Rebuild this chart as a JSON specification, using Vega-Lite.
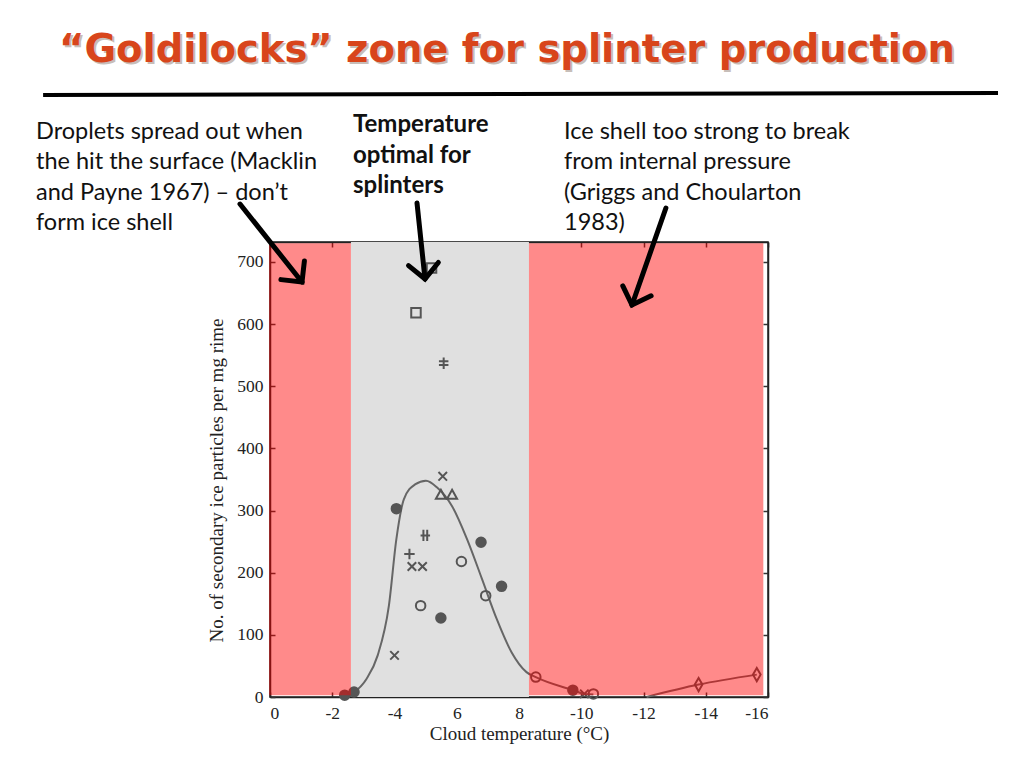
{
  "$schema": "https://vega.github.io/schema/vega-lite/v6.json",
  "width": 498,
  "height": 455,
  "autosize": {"type": "none"},
  "padding": {"left": 270, "top": 242, "right": 256, "bottom": 71},
  "background": "white",
  "config": {"view": {"stroke": "#222", "strokeWidth": 1.5}},
  "datasets": {
    "gray": [{"x": -2.6, "x2": -8.32, "y": 0, "y2": 732}],
    "red": [
      {"x": 0.03, "x2": -2.6, "y": 3, "y2": 730},
      {"x": -8.32, "x2": -15.85, "y": 3, "y2": 730}
    ],
    "curve": [
      {"seg": "a", "x": -2.4, "y": 2},
      {"seg": "a", "x": -2.7, "y": 8},
      {"seg": "a", "x": -3.1, "y": 29},
      {"seg": "a", "x": -3.46, "y": 67},
      {"seg": "a", "x": -3.82, "y": 147},
      {"seg": "a", "x": -4.06, "y": 254},
      {"seg": "a", "x": -4.3, "y": 318},
      {"seg": "a", "x": -4.66, "y": 342},
      {"seg": "a", "x": -5.01, "y": 348},
      {"seg": "a", "x": -5.37, "y": 337},
      {"seg": "a", "x": -5.85, "y": 307},
      {"seg": "a", "x": -6.33, "y": 254},
      {"seg": "a", "x": -6.81, "y": 190},
      {"seg": "a", "x": -7.28, "y": 126},
      {"seg": "a", "x": -7.76, "y": 72},
      {"seg": "a", "x": -8.24, "y": 40},
      {"seg": "a", "x": -8.54, "y": 32},
      {"seg": "a", "x": -9.73, "y": 11},
      {"seg": "a", "x": -10.1, "y": 5},
      {"seg": "a", "x": -10.39, "y": 4},
      {"seg": "b", "x": -12.1, "y": 0},
      {"seg": "b", "x": -13.77, "y": 20},
      {"seg": "b", "x": -15.64, "y": 36}
    ],
    "obs": [
      {"kind": "dot", "x": -2.4, "y": 3},
      {"kind": "dot", "x": -2.7, "y": 8},
      {"kind": "dot", "x": -4.06, "y": 303},
      {"kind": "dot", "x": -5.49, "y": 127},
      {"kind": "dot", "x": -6.78, "y": 249},
      {"kind": "dot", "x": -7.44, "y": 178},
      {"kind": "dot", "x": -9.73, "y": 11},
      {"kind": "x", "x": -4.0, "y": 67},
      {"kind": "x", "x": -4.56, "y": 210},
      {"kind": "x", "x": -4.9, "y": 210},
      {"kind": "x", "x": -5.55, "y": 355},
      {"kind": "x", "x": -10.1, "y": 5},
      {"kind": "plus", "x": -4.48, "y": 230},
      {"kind": "hash2", "x": -4.99, "y": 260},
      {"kind": "hash1", "x": -5.58, "y": 537},
      {"kind": "ring", "x": -4.84, "y": 147},
      {"kind": "ring", "x": -6.15, "y": 218},
      {"kind": "ring", "x": -6.93, "y": 163},
      {"kind": "ring", "x": -8.54, "y": 32},
      {"kind": "ring", "x": -10.39, "y": 5},
      {"kind": "square", "x": -4.69, "y": 618},
      {"kind": "square", "x": -5.19, "y": 690},
      {"kind": "triangle", "x": -5.49, "y": 325},
      {"kind": "triangle", "x": -5.85, "y": 325},
      {"kind": "diamond", "x": -13.77, "y": 20},
      {"kind": "diamond", "x": -15.64, "y": 36}
    ],
    "heading": [{"x": -7.614, "y": 1022, "text": "“Goldilocks” zone for splinter production"}],
    "underline": [{"x": 7.29, "x2": -23.39, "y": 968.5, "y2": 971.7}],
    "notes": [
      {"x": 7.518, "y": 928.3, "text": "Droplets spread out when\nthe hit the surface (Macklin\nand Payne 1967) – don’t\nform ice shell"},
      {"x": -9.446, "y": 928.3, "text": "Ice shell too strong to break\nfrom internal pressure\n(Griggs and Choularton\n1983)"}
    ],
    "boldnote": [{"x": -2.667, "y": 939.5, "text": "Temperature\noptimal for\nsplinters"}],
    "arrows": [
      {"x": 0.964, "y": 793.1, "x2": -1.028, "y2": 667.6, "angle": -38.5},
      {"x": -4.723, "y": 794.7, "x2": -4.98, "y2": 672.5, "angle": -6},
      {"x": -12.72, "y": 786.7, "x2": -11.63, "y2": 630.6, "angle": 19.3}
    ]
  },
  "resolve": {"axis": {"x": "independent", "y": "independent"}},
  "layer": [
    {
      "data": {"name": "gray"},
      "mark": {"type": "rect", "color": "#e0e0e0"},
      "encoding": {
        "x": {
          "field": "x", "type": "quantitative",
          "scale": {"domain": [0, -16], "nice": false, "zero": false},
          "axis": {
            "orient": "bottom", "values": [0, -2, -4, -6, -8, -10, -12, -14, -16],
            "labelExpr": "(datum.value === -6 || datum.value === -8) ? '' + (-datum.value) : '' + datum.value",
            "title": "Cloud temperature (°C)", "grid": false,
            "tickSize": -5, "labelPadding": 12, "tickColor": "#333", "tickWidth": 1.5,
            "domainColor": "#222", "domainWidth": 1.5,
            "labelFont": "Liberation Serif", "labelFontSize": 17.5, "labelColor": "#222",
            "titleFont": "Liberation Serif", "titleFontSize": 19, "titleFontWeight": "normal",
            "titleColor": "#222", "titlePadding": 3
          }
        },
        "x2": {"field": "x2"},
        "y": {
          "field": "y", "type": "quantitative",
          "scale": {"domain": [0, 732], "nice": false},
          "axis": {
            "orient": "left", "values": [0, 100, 200, 300, 400, 500, 600, 700],
            "title": "No. of secondary ice particles per mg rime", "grid": false,
            "tickSize": -5, "labelPadding": 12, "tickColor": "#333", "tickWidth": 1.5,
            "domainColor": "#222", "domainWidth": 1.5,
            "labelFont": "Liberation Serif", "labelFontSize": 17.5, "labelColor": "#222",
            "titleFont": "Liberation Serif", "titleFontSize": 19, "titleFontWeight": "normal",
            "titleColor": "#222", "titlePadding": 10, "titleY": 238
          }
        },
        "y2": {"field": "y2"}
      }
    },
    {
      "data": {"name": "curve"},
      "mark": {"type": "line", "interpolate": "monotone", "color": "#666", "strokeWidth": 2},
      "encoding": {
        "x": {"field": "x", "type": "quantitative", "axis": null},
        "y": {"field": "y", "type": "quantitative", "axis": null},
        "detail": {"field": "seg"}
      }
    },
    {
      "data": {"name": "obs"},
      "mark": {"type": "point", "filled": false, "stroke": "#555", "strokeWidth": 2, "size": 90, "opacity": 1},
      "encoding": {
        "x": {"field": "x", "type": "quantitative", "axis": null},
        "y": {"field": "y", "type": "quantitative", "axis": null},
        "shape": {
          "field": "kind", "type": "nominal", "legend": null,
          "scale": {
            "domain": ["dot", "ring", "x", "plus", "hash1", "hash2", "square", "triangle", "diamond"],
            "range": [
              "circle",
              "circle",
              "M -0.9 -0.9 L 0.9 0.9 M -0.9 0.9 L 0.9 -0.9",
              "M -1.1 0 L 1.1 0 M 0 -1.1 L 0 1.1",
              "M 0 -1.2 L 0 1.2 M -1 -0.4 L 1 -0.4 M -1 0.4 L 1 0.4",
              "M -0.4 -1.2 L -0.4 1.2 M 0.4 -1.2 L 0.4 1.2 M -1 0 L 1 0",
              "square",
              "M 0 -1.1 L 1.05 0.8 L -1.05 0.8 Z",
              "M 0 -1.4 L 0.8 0 L 0 1.4 L -0.8 0 Z"
            ]
          }
        },
        "fill": {
          "condition": {"test": "datum.kind === 'dot'", "value": "#555"},
          "value": "transparent"
        }
      }
    },
    {
      "data": {"name": "red"},
      "mark": {"type": "rect", "color": "#ff0000", "opacity": 0.46},
      "encoding": {
        "x": {
          "field": "x", "type": "quantitative",
          "axis": {
            "orient": "top", "values": [0, -2, -4, -6, -8, -10, -12, -14, -16],
            "labels": false, "title": null, "grid": false,
            "tickSize": -5, "labelPadding": 0, "tickColor": "#333", "tickWidth": 1.5,
            "domainColor": "#222", "domainWidth": 1.5
          }
        },
        "x2": {"field": "x2"},
        "y": {
          "field": "y", "type": "quantitative",
          "axis": {
            "orient": "right", "values": [0, 100, 200, 300, 400, 500, 600, 700],
            "labels": false, "title": null, "grid": false,
            "tickSize": -5, "labelPadding": 0, "tickColor": "#333", "tickWidth": 1.5,
            "domainColor": "#222", "domainWidth": 1.5
          }
        },
        "y2": {"field": "y2"}
      }
    },
    {
      "data": {"name": "heading"},
      "mark": {"type": "text", "font": "DejaVu Sans", "fontWeight": "bold", "fontSize": 38.5, "color": "#9a8a80", "opacity": 0.55, "align": "center", "baseline": "alphabetic", "dx": 2, "dy": 2},
      "encoding": {
        "x": {"field": "x", "type": "quantitative", "axis": null},
        "y": {"field": "y", "type": "quantitative", "axis": null},
        "text": {"field": "text"}
      }
    },
    {
      "data": {"name": "heading"},
      "mark": {"type": "text", "font": "DejaVu Sans", "fontWeight": "bold", "fontSize": 38.5, "color": "#d8451b", "align": "center", "baseline": "alphabetic"},
      "encoding": {
        "x": {"field": "x", "type": "quantitative", "axis": null},
        "y": {"field": "y", "type": "quantitative", "axis": null},
        "text": {"field": "text"}
      }
    },
    {
      "data": {"name": "underline"},
      "mark": {"type": "rule", "color": "#000", "strokeWidth": 4},
      "encoding": {
        "x": {"field": "x", "type": "quantitative", "axis": null},
        "x2": {"field": "x2"},
        "y": {"field": "y", "type": "quantitative", "axis": null},
        "y2": {"field": "y2"}
      }
    },
    {
      "data": {"name": "notes"},
      "mark": {"type": "text", "font": "Lato", "fontSize": 23.5, "color": "#111", "align": "left", "baseline": "top", "lineBreak": "\n", "lineHeight": 30.5},
      "encoding": {
        "x": {"field": "x", "type": "quantitative", "axis": null},
        "y": {"field": "y", "type": "quantitative", "axis": null},
        "text": {"field": "text"}
      }
    },
    {
      "data": {"name": "boldnote"},
      "mark": {"type": "text", "font": "Lato", "fontWeight": "bold", "fontSize": 24, "color": "#111", "align": "left", "baseline": "top", "lineBreak": "\n", "lineHeight": 30.5},
      "encoding": {
        "x": {"field": "x", "type": "quantitative", "axis": null},
        "y": {"field": "y", "type": "quantitative", "axis": null},
        "text": {"field": "text"}
      }
    },
    {
      "data": {"name": "arrows"},
      "mark": {"type": "rule", "color": "#000", "strokeWidth": 5, "strokeCap": "round"},
      "encoding": {
        "x": {"field": "x", "type": "quantitative", "axis": null},
        "x2": {"field": "x2"},
        "y": {"field": "y", "type": "quantitative", "axis": null},
        "y2": {"field": "y2"}
      }
    },
    {
      "data": {"name": "arrows"},
      "mark": {"type": "point", "shape": "M -1 -1 L 0 0 L 1 -1", "filled": false, "stroke": "#000", "strokeWidth": 5, "strokeJoin": "miter", "strokeCap": "round", "size": 900, "opacity": 1},
      "encoding": {
        "x": {"field": "x2", "type": "quantitative", "axis": null},
        "y": {"field": "y2", "type": "quantitative", "axis": null},
        "angle": {"field": "angle", "type": "quantitative", "scale": null}
      }
    }
  ]
}
